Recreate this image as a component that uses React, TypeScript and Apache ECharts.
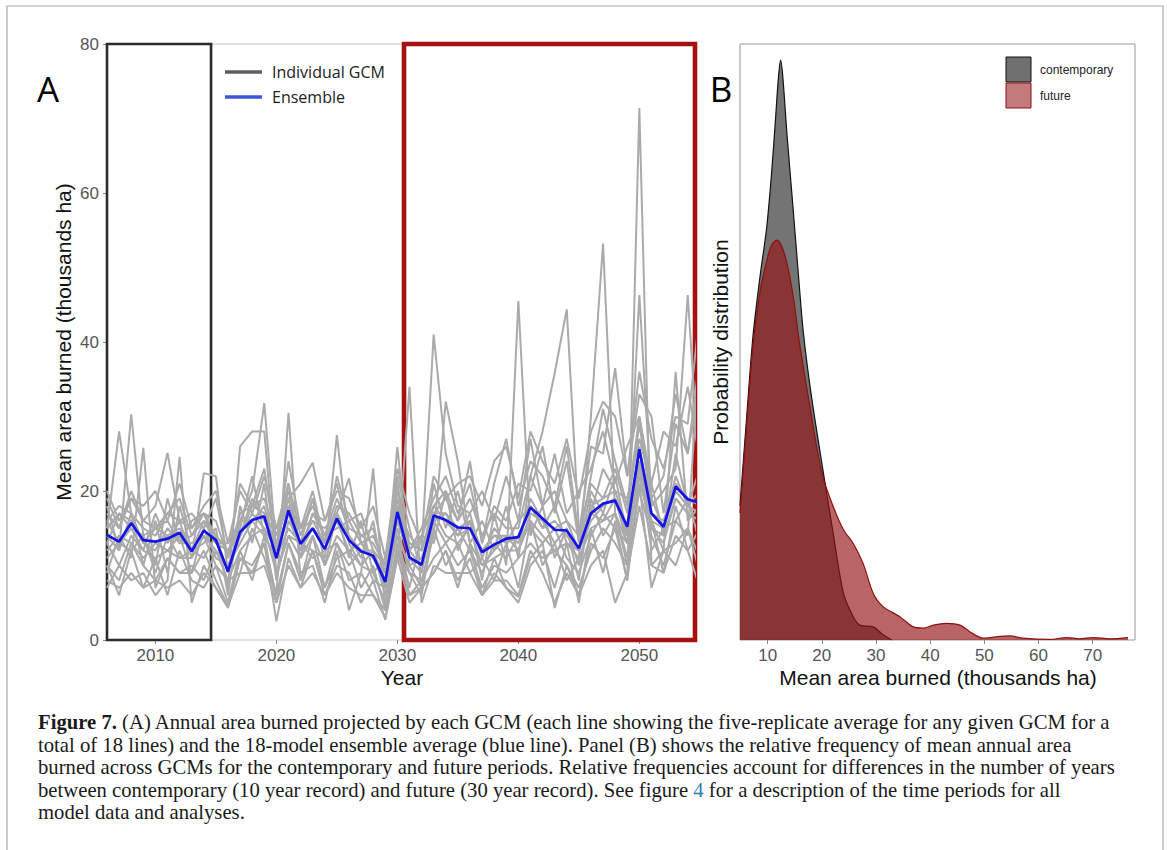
import React, { useEffect, useRef } from "react";
import * as echarts from "echarts";

// ---------- Panel A data ----------
const years = [
  2006, 2007, 2008, 2009, 2010, 2011, 2012, 2013, 2014, 2015,
  2016, 2017, 2018, 2019, 2020, 2021, 2022, 2023, 2024, 2025,
  2026, 2027, 2028, 2029, 2030, 2031, 2032, 2033, 2034, 2035,
  2036, 2037, 2038, 2039, 2040, 2041, 2042, 2043, 2044, 2045,
  2046, 2047, 2048, 2049, 2050, 2051, 2052, 2053, 2054, 2055,
];
const xTicksA = [2010, 2020, 2030, 2040, 2050];
const yTicksA = [0, 20, 40, 60, 80];

const ensemble = [
  14.1, 13.2, 15.7, 13.4, 13.2, 13.6, 14.4, 11.9, 14.7, 13.4,
  9.2, 14.5, 16.1, 16.6, 11.0, 17.4, 12.9, 15.0, 12.2, 16.3,
  13.4, 11.9, 11.3, 7.8, 17.2, 11.1, 10.1, 16.7, 16.1, 15.1,
  15.0, 11.8, 12.8, 13.6, 13.8, 17.8, 16.3, 14.8, 14.7, 12.3,
  17.0, 18.3, 18.7, 15.2, 25.6, 17.0, 15.2, 20.6, 18.9, 18.4,
];

const gcm01 = [15, 28, 17, 10, 16, 9, 18, 12, 13, 15, 6, 18, 13, 21, 8, 16, 13, 19, 10, 17, 11, 16, 9, 11, 14, 7, 14, 13, 20, 12, 16, 8, 17, 10, 45.5, 14, 18, 11, 15, 8, 19, 14, 17, 11, 24, 12, 15, 16, 19, 13];
const gcm02 = [18, 12, 30.3, 14, 10, 19, 13, 16, 17, 13, 12, 15, 22, 14, 15, 21, 11, 17, 16, 21, 14, 11, 16, 7, 22, 15, 9, 21, 15, 20, 13, 16, 12, 18, 11, 22, 28, 35.8, 44.4, 15, 17, 23, 20, 19, 27, 21, 14, 25, 18, 23];
const gcm03 = [9, 14, 11, 25.8, 7, 11, 9, 10, 8, 12, 8, 9, 15, 11, 6, 13, 8, 14, 7, 11, 12, 7, 10, 4, 12, 9, 6, 15, 10, 13, 9, 11, 8, 13, 7, 16, 10, 13, 8, 11, 30, 53.2, 17, 10, 21, 16, 9, 18, 12, 15];
const gcm04 = [19, 15, 20, 16, 18, 25.1, 16, 17, 15, 19, 11, 21, 18, 23, 12, 24, 15, 20, 13, 22, 16, 17, 12, 10, 21, 12, 15, 19, 22, 17, 21, 13, 21, 27, 18, 24, 22, 18, 26, 14, 26, 25, 36.5, 22, 33, 30, 17, 29, 25, 35];
const gcm05 = [7, 10, 8, 9, 6, 8, 24.6, 5, 10, 7, 4.3, 11, 9, 13, 2.5, 11, 7, 12, 6, 10, 9, 5, 8, 2.7, 11, 5, 7, 9, 12, 8, 11, 6, 9, 7, 5.8, 11, 13, 4.3, 10, 6, 13, 11, 15, 8, 71.4, 10, 12, 13, 15, 11];
const gcm06 = [13, 17, 15, 12, 17, 13, 16, 11, 22.4, 22, 9, 14, 19, 16, 13, 19, 12, 17, 14, 15, 16, 13, 11, 9, 17, 13, 12, 18, 16, 14, 17, 11, 15, 13, 16, 18, 15, 18, 13, 12, 20, 17, 22, 14, 46.3, 19, 15, 22, 18, 20];
const gcm07 = [11, 13, 12, 14, 9, 14, 11, 12, 11, 14, 7, 26, 28, 28, 9, 14, 13, 11, 12, 13, 10, 12, 8, 7, 14, 10, 7, 16, 13, 15, 12, 9, 13, 11, 14, 15, 13, 15, 11, 9, 14, 17, 15, 13, 22, 16, 12, 36, 16, 18];
const gcm08 = [16, 18, 17, 15, 14, 17, 19, 14, 16, 13, 13, 16, 20, 31.8, 12, 21, 14, 19, 13, 18, 17, 14, 15, 9, 19, 12, 14, 18, 20, 16, 19, 14, 17, 15, 15, 22, 18, 20, 16, 14, 21, 19, 23, 17, 29, 18, 20, 23, 46.3, 21];
const gcm09 = [10, 8, 13, 10, 8, 11, 9, 9, 12, 8, 4.5, 11, 10, 13, 6, 30.5, 8, 12, 7, 13, 8, 9, 6, 4, 12, 6, 8, 11, 13, 10, 12, 7, 10, 9, 11, 13, 11, 12, 10, 7, 12, 15, 13, 10, 20, 14, 10, 16, 14, 40];
const gcm10 = [20, 16, 19, 18, 20, 16, 21, 15, 18, 20, 13, 20, 17, 22, 15, 19, 21, 23.8, 16, 20, 19, 15, 18, 11, 23, 17, 13, 22, 19, 21, 22, 18, 24, 26, 19, 28, 24, 21, 27, 19, 28, 32, 30, 22, 36, 27, 23, 30, 29, 44];
const gcm11 = [12, 14, 13, 11, 13, 12, 14, 9, 15, 11, 10, 13, 16, 14, 11, 15, 13, 12, 11, 27.5, 13, 10, 12, 6, 16, 11, 9, 17, 14, 13, 15, 10, 12, 14, 12, 17, 16, 13, 15, 10, 17, 16, 19, 13, 23, 15, 14, 19, 17, 16];
const gcm12 = [15, 17, 16, 13, 15, 16, 13, 14, 17, 14, 12, 14, 18, 17, 14, 18, 15, 16, 15, 17, 21.7, 13, 14, 10, 18, 14, 12, 17, 19, 16, 24, 13, 18, 16, 21, 20, 26, 17, 24, 13, 22, 31, 24, 18, 30, 21, 28, 26, 34, 24];
const gcm13 = [10, 6, 12, 7, 11, 6, 12, 8, 7, 10, 5, 12, 8, 14, 5, 13, 9, 10, 5, 12, 4, 9, 23, 4, 13, 6, 7, 9, 12, 7, 13, 6, 11, 7, 5, 10, 12, 7, 13, 5, 15, 9, 16, 8, 21, 7, 12, 10, 15, 9];
const gcm14 = [14, 12, 17, 13, 12, 15, 13, 13, 14, 12, 10, 14, 17, 15, 12, 17, 12, 15, 13, 16, 12, 13, 11, 8, 25.9, 10, 11, 16, 17, 14, 15, 12, 14, 13, 14, 18, 15, 16, 14, 12, 16, 18, 19, 14, 24, 16, 15, 20, 18, 17];
const gcm15 = [8, 7, 9, 7, 8, 7, 8, 6, 9, 7, 4.5, 9, 9, 10, 5, 10, 7, 9, 6, 9, 7, 6, 6, 3, 11, 34, 5, 10, 9, 9, 9, 6, 8, 8, 6, 12, 9, 5, 9, 6, 10, 12, 5, 9, 18, 10, 9, 14, 12, 7];
const gcm16 = [17, 15, 19, 16, 15, 17, 16, 15, 17, 16, 11, 17, 18, 19, 14, 20, 15, 18, 14, 19, 15, 14, 13, 10, 20, 13, 12, 41, 25, 18, 17, 20, 16, 22, 16, 27, 18, 25, 17, 20, 23, 28, 21, 26, 30, 19, 22, 33, 25, 38];
const gcm17 = [13, 10, 14, 12, 11, 12, 11, 11, 14, 10, 8, 12, 14, 15, 9, 14, 11, 14, 10, 14, 12, 10, 9, 5, 15, 9, 8, 14, 32, 24, 13, 10, 11, 12, 12, 16, 14, 12, 13, 11, 15, 16, 17, 13, 22, 15, 13, 19, 17, 16];
const gcm18 = [16, 13, 15, 14, 15, 14, 15, 12, 16, 14, 9, 16, 16, 18, 11, 18, 13, 16, 13, 17, 14, 12, 12, 8, 18, 12, 10, 17, 17, 15, 16, 12, 14, 14, 13, 19, 16, 15, 16, 12, 18, 19, 20, 15, 26, 17, 16, 21, 19, 18];
const gcmRuns = [gcm01, gcm02, gcm03, gcm04, gcm05, gcm06, gcm07, gcm08, gcm09, gcm10, gcm11, gcm12, gcm13, gcm14, gcm15, gcm16, gcm17, gcm18];

const contemporaryPeriod = [2006, 2014.6];
const futurePeriod = [2030.55, 2054.6];

// ---------- Panel B data ----------
const xTicksB = [10, 20, 30, 40, 50, 60, 70];
const contemporaryDensity = [
  [4.9, 0.0225], [6.1, 0.037], [7.3, 0.051], [8.6, 0.061], [9.8, 0.069],
  [10.7, 0.078], [11.5, 0.088], [12.0, 0.0945], [12.4, 0.0973], [12.8, 0.0945],
  [13.6, 0.0845], [14.6, 0.0735], [15.6, 0.0622], [16.6, 0.0515], [18.1, 0.0408],
  [20.3, 0.028], [22.1, 0.0179], [24.0, 0.0078], [25.8, 0.0039], [27.0, 0.0025],
  [29.5, 0.0022], [31.0, 0.0011], [32.9, 0],
];
const futureDensity = [
  [4.9, 0.0213], [6.1, 0.0358], [7.3, 0.0495], [8.6, 0.0585], [9.8, 0.0635],
  [10.7, 0.0662], [11.7, 0.0671], [13.2, 0.0645], [14.7, 0.0578], [15.8, 0.0503],
  [17.5, 0.0408], [20.0, 0.028], [22.1, 0.0224], [24.0, 0.0185], [25.8, 0.0162],
  [27.6, 0.0129], [29.5, 0.0078], [31.3, 0.0056], [34.4, 0.0039], [36.9, 0.0022],
  [38.7, 0.002], [40.6, 0.0025], [43.0, 0.0028], [45.5, 0.0025], [47.3, 0.0014],
  [49.8, 0.0003], [52.9, 0.0006], [54.7, 0.0007], [57.1, 0.0003], [62.1, 0.0001],
  [65.2, 0.0004], [67.6, 0.0002], [70.0, 0.0004], [73.2, 0.0002], [76.5, 0.0004],
];

const captionLines = [
  "{b|Figure 7.} (A) Annual area burned projected by each GCM (each line showing the five-replicate average for any given GCM for a",
  "total of 18 lines) and the 18-model ensemble average (blue line). Panel (B) shows the relative frequency of mean annual area",
  "burned across GCMs for the contemporary and future periods. Relative frequencies account for differences in the number of years",
  "between contemporary (10 year record) and future (30 year record). See figure {l|4} for a description of the time periods for all",
  "model data and analyses.",
];

const SANS = "Liberation Sans, Arial, sans-serif";
const OPEN = "Open Sans, Liberation Sans, sans-serif";
const SERIF = "Liberation Serif, Times New Roman, serif";
const CAP = 20.7;

export default function App() {
  const ref = useRef<HTMLDivElement>(null);

  useEffect(() => {
    document.body.style.margin = "0";
    if (!ref.current) return;
    const chart = echarts.init(ref.current, undefined, { renderer: "svg" });

    const tickLabel = { color: "#555", fontSize: 17, fontFamily: SANS };

    const graySeries = gcmRuns.map((run, k) => ({
      type: "line",
      name: "gcm" + (k + 1),
      xAxisIndex: 0,
      yAxisIndex: 0,
      data: years.map((y, i) => [y, run[i]]),
      symbol: "none",
      silent: true,
      lineStyle: { color: "#aaaaaa", width: 2 },
      z: 2,
    }));

    const option: any = {
      animation: false,
      backgroundColor: "#ffffff",
      grid: [
        { left: 107, top: 44, width: 588, height: 596, show: true, borderColor: "#c4c4c4", borderWidth: 1, backgroundColor: "transparent" },
        { left: 740, top: 44, width: 395, height: 596, show: true, borderColor: "#999999", borderWidth: 1, backgroundColor: "transparent" },
      ],
      xAxis: [
        {
          gridIndex: 0, type: "value", min: 2006, max: 2054.6,
          axisLine: { show: false }, splitLine: { show: false },
          axisTick: { show: true, customValues: xTicksA, length: 4, lineStyle: { color: "#888" } },
          axisLabel: { ...tickLabel, customValues: xTicksA, margin: 7, formatter: (v: number) => String(v) },
        },
        {
          gridIndex: 1, type: "value", min: 4.9, max: 77.8,
          axisLine: { show: false }, splitLine: { show: false },
          axisTick: { show: true, customValues: xTicksB, length: 4, lineStyle: { color: "#888" } },
          axisLabel: { ...tickLabel, customValues: xTicksB, margin: 7 },
        },
      ],
      yAxis: [
        {
          gridIndex: 0, type: "value", min: 0, max: 80, interval: 20,
          axisLine: { show: false }, splitLine: { show: false },
          axisTick: { show: true, length: 4, lineStyle: { color: "#888" } },
          axisLabel: { ...tickLabel, margin: 8, customValues: yTicksA },
        },
        {
          gridIndex: 1, type: "value", min: 0, max: 0.1,
          axisLine: { show: false }, splitLine: { show: false },
          axisTick: { show: false }, axisLabel: { show: false },
        },
      ],
      series: [
        ...graySeries,
        {
          type: "line", name: "Ensemble", xAxisIndex: 0, yAxisIndex: 0,
          data: years.map((y, i) => [y, ensemble[i]]),
          symbol: "none", silent: true,
          lineStyle: { color: "#1414e8", width: 2.7 }, z: 3,
        },
        {
          type: "line", name: "periods", xAxisIndex: 0, yAxisIndex: 0,
          data: [], clip: false, silent: true, z: 6,
          markArea: {
            silent: true,
            data: [
              [
                { coord: [contemporaryPeriod[0], 0], itemStyle: { color: "rgba(0,0,0,0)", borderColor: "#2b2b2b", borderWidth: 2.6 } },
                { coord: [contemporaryPeriod[1], 80] },
              ],
              [
                { coord: [futurePeriod[0], 0], itemStyle: { color: "rgba(0,0,0,0)", borderColor: "#a51010", borderWidth: 4.6 } },
                { coord: [futurePeriod[1], 80] },
              ],
            ],
          },
        },
        {
          type: "line", name: "contemporary", xAxisIndex: 1, yAxisIndex: 1,
          data: contemporaryDensity, smooth: 0.3,
          symbol: "none", silent: true,
          lineStyle: { color: "#111111", width: 1.2 },
          areaStyle: { color: "rgba(62,62,62,0.72)", opacity: 1 }, z: 2,
        },
        {
          type: "line", name: "future", xAxisIndex: 1, yAxisIndex: 1,
          data: futureDensity, smooth: 0.3,
          symbol: "none", silent: true,
          lineStyle: { color: "#8e1111", width: 1.2 },
          areaStyle: { color: "rgba(150,22,22,0.66)", opacity: 1 }, z: 3,
        },
      ],
      graphic: [
        { type: "rect", silent: true, z: -10, shape: { x: 7, y: 6, width: 1156, height: 900 }, style: { fill: "none", stroke: "#a8a8a8", lineWidth: 1.2 } },
        { type: "text", x: 48, y: 88, style: { text: "A", font: "35px " + OPEN, fill: "#000", align: "center", verticalAlign: "middle" } },
        { type: "text", x: 721, y: 88, style: { text: "B", font: "35px " + OPEN, fill: "#000", align: "center", verticalAlign: "middle" } },
        // legend A
        { type: "line", shape: { x1: 225, y1: 72, x2: 262, y2: 72 }, style: { stroke: "#5f5f5f", lineWidth: 3.5 } },
        { type: "text", x: 272, y: 72, style: { text: "Individual GCM", font: "16px " + OPEN, fill: "#222", verticalAlign: "middle" } },
        { type: "line", shape: { x1: 225, y1: 97, x2: 262, y2: 97 }, style: { stroke: "#3a55d6", lineWidth: 3.5 } },
        { type: "text", x: 272, y: 97, style: { text: "Ensemble", font: "16px " + OPEN, fill: "#222", verticalAlign: "middle" } },
        // legend B
        { type: "rect", shape: { x: 1006, y: 57, width: 25, height: 25 }, style: { fill: "#707070", stroke: "#111", lineWidth: 1 } },
        { type: "rect", shape: { x: 1006, y: 83, width: 25, height: 25 }, style: { fill: "#c27a7a", stroke: "#8e1111", lineWidth: 1 } },
        { type: "text", x: 1040, y: 70, style: { text: "contemporary", font: "12px " + SANS, fill: "#222", verticalAlign: "middle" } },
        { type: "text", x: 1040, y: 96, style: { text: "future", font: "12px " + SANS, fill: "#222", verticalAlign: "middle" } },
        // axis titles
        { type: "text", x: 63, y: 342, rotation: Math.PI / 2, style: { text: "Mean area burned (thousands ha)", font: "21px " + SANS, fill: "#111", align: "center", verticalAlign: "middle" } },
        { type: "text", x: 402, y: 677, style: { text: "Year", font: "21px " + SANS, fill: "#111", align: "center", verticalAlign: "middle" } },
        { type: "text", x: 720, y: 342, rotation: Math.PI / 2, style: { text: "Probability distribution", font: "21px " + SANS, fill: "#111", align: "center", verticalAlign: "middle" } },
        { type: "text", x: 938, y: 677, style: { text: "Mean area burned (thousands ha)", font: "21px " + SANS, fill: "#111", align: "center", verticalAlign: "middle" } },
        // caption
        ...captionLines.map((line, i) => ({
          type: "text", x: 38, y: 722 + i * 22.6,
          style: {
            text: line, font: CAP + "px " + SERIF, fill: "#1a1a1a", verticalAlign: "middle",
            rich: {
              b: { fontWeight: "bold", fontSize: CAP, fontFamily: SERIF, fill: "#1a1a1a" },
              l: { fontSize: CAP, fontFamily: SERIF, fill: "#2b7bb9" },
            },
          },
        })),
      ],
    };

    chart.setOption(option);
    return () => chart.dispose();
  }, []);

  return <div ref={ref} style={{ width: 1167, height: 850 }} />;
}
